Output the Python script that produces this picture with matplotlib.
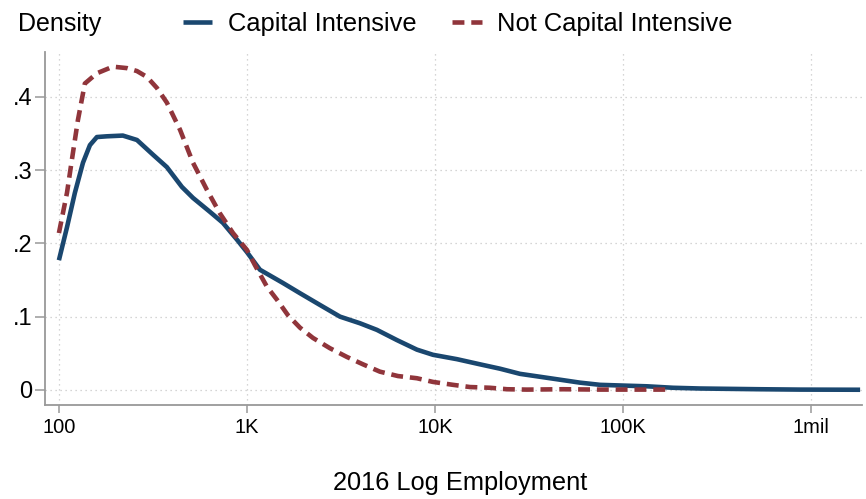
import matplotlib.pyplot as plt
from matplotlib.lines import Line2D

plt.rcParams['font.family'] = ['Liberation Sans', 'DejaVu Sans']

# log10(employment) and kernel density
cap_x = [2.000, 2.043, 2.085, 2.128, 2.165, 2.202, 2.255, 2.340, 2.415, 2.500,
         2.574, 2.654, 2.713, 2.803, 2.872, 2.947, 3.000, 3.069, 3.191, 3.282,
         3.388, 3.495, 3.601, 3.691, 3.798, 3.904, 3.989, 4.117, 4.239, 4.346,
         4.452, 4.559, 4.665, 4.771, 4.878, 5.000, 5.128, 5.266, 5.410, 5.729,
         5.941, 6.261]
cap_y = [0.177, 0.222, 0.269, 0.310, 0.334, 0.345, 0.346, 0.347, 0.341, 0.321,
         0.304, 0.277, 0.262, 0.243, 0.228, 0.205, 0.188, 0.164, 0.146, 0.132,
         0.116, 0.100, 0.091, 0.082, 0.068, 0.055, 0.048, 0.042, 0.035, 0.029,
         0.022, 0.018, 0.014, 0.010, 0.007, 0.006, 0.005, 0.003, 0.002, 0.001,
         0.0005, 0.0003]

not_x = [2.000, 2.043, 2.069, 2.101, 2.138, 2.202, 2.287, 2.362, 2.415, 2.468,
         2.521, 2.574, 2.644, 2.713, 2.787, 2.856, 2.926, 3.000, 3.043, 3.106,
         3.160, 3.218, 3.282, 3.351, 3.441, 3.532, 3.617, 3.707, 3.803, 3.904,
         3.989, 4.096, 4.186, 4.293, 4.383, 4.489, 4.681, 4.878, 5.090, 5.250]
not_y = [0.214, 0.269, 0.314, 0.368, 0.418, 0.432, 0.441, 0.439, 0.435, 0.427,
         0.412, 0.392, 0.355, 0.310, 0.273, 0.241, 0.214, 0.191, 0.170, 0.141,
         0.123, 0.102, 0.085, 0.071, 0.057, 0.045, 0.035, 0.025, 0.019, 0.016,
         0.011, 0.007, 0.004, 0.003, 0.001, 0.0005, 0.001, 0.0005, 0.0005, 0.0005]

xticks = [2, 3, 4, 5, 6]
xticklabels = ['100', '1K', '10K', '100K', '1mil']
yticks = [0, 0.1, 0.2, 0.3, 0.4]
yticklabels = ['0', '.1', '.2', '.3', '.4']

blue = '#1a476f'
red = '#90353b'
W, H = 866, 499
lw = 3.3
dash = (0, (2.6, 1.5))

fig = plt.figure(figsize=(W / 100, H / 100), dpi=100)
ax = fig.add_axes([45 / W, 1 - 405 / H, 817 / W, 353 / H])

ax.plot(cap_x, cap_y, color=blue, lw=lw, solid_capstyle='butt',
        solid_joinstyle='round', zorder=3)
ax.plot(not_x, not_y, color=red, lw=lw, linestyle=dash, zorder=3)

ax.set_xlim(1.926, 6.271)
ax.set_ylim(-0.0205, 0.461)
ax.set_xticks(xticks)
ax.set_xticklabels(xticklabels, fontsize=14.5)
ax.set_yticks(yticks)
ax.set_yticklabels(yticklabels, fontsize=17)

ax.grid(True, color='#c8c8c8', linestyle=(0, (1, 3)), lw=0.9)
for s in ['top', 'right']:
    ax.spines[s].set_visible(False)
for s in ['left', 'bottom']:
    ax.spines[s].set_color('#999999')
    ax.spines[s].set_linewidth(1.3)
ax.tick_params(axis='x', length=6, width=1.1, color='#999999', pad=3.5)
ax.tick_params(axis='y', length=7, width=1.1, color='#999999', pad=2)

ax.set_xlabel('2016 Log Employment', fontsize=18.3)
ax.xaxis.set_label_coords((460 - 45) / 817, -(483 - 405) / 353)
ax.xaxis.label.set_va('center')

fig.text(18 / W, 1 - 24 / H, 'Density', fontsize=18, va='center', ha='left')

handles = [Line2D([], [], color=blue, lw=lw, solid_capstyle='butt'),
           Line2D([], [], color=red, lw=lw, linestyle=dash)]
fig.legend(handles, ['Capital Intensive', 'Not Capital Intensive'], ncol=2,
           loc='center left', bbox_to_anchor=(183 / W, 1 - 24 / H),
           frameon=False, fontsize=18.4, borderpad=0, handlelength=1.15,
           handletextpad=0.6, columnspacing=1.4, borderaxespad=0)

fig.savefig('out.png', dpi=100)
